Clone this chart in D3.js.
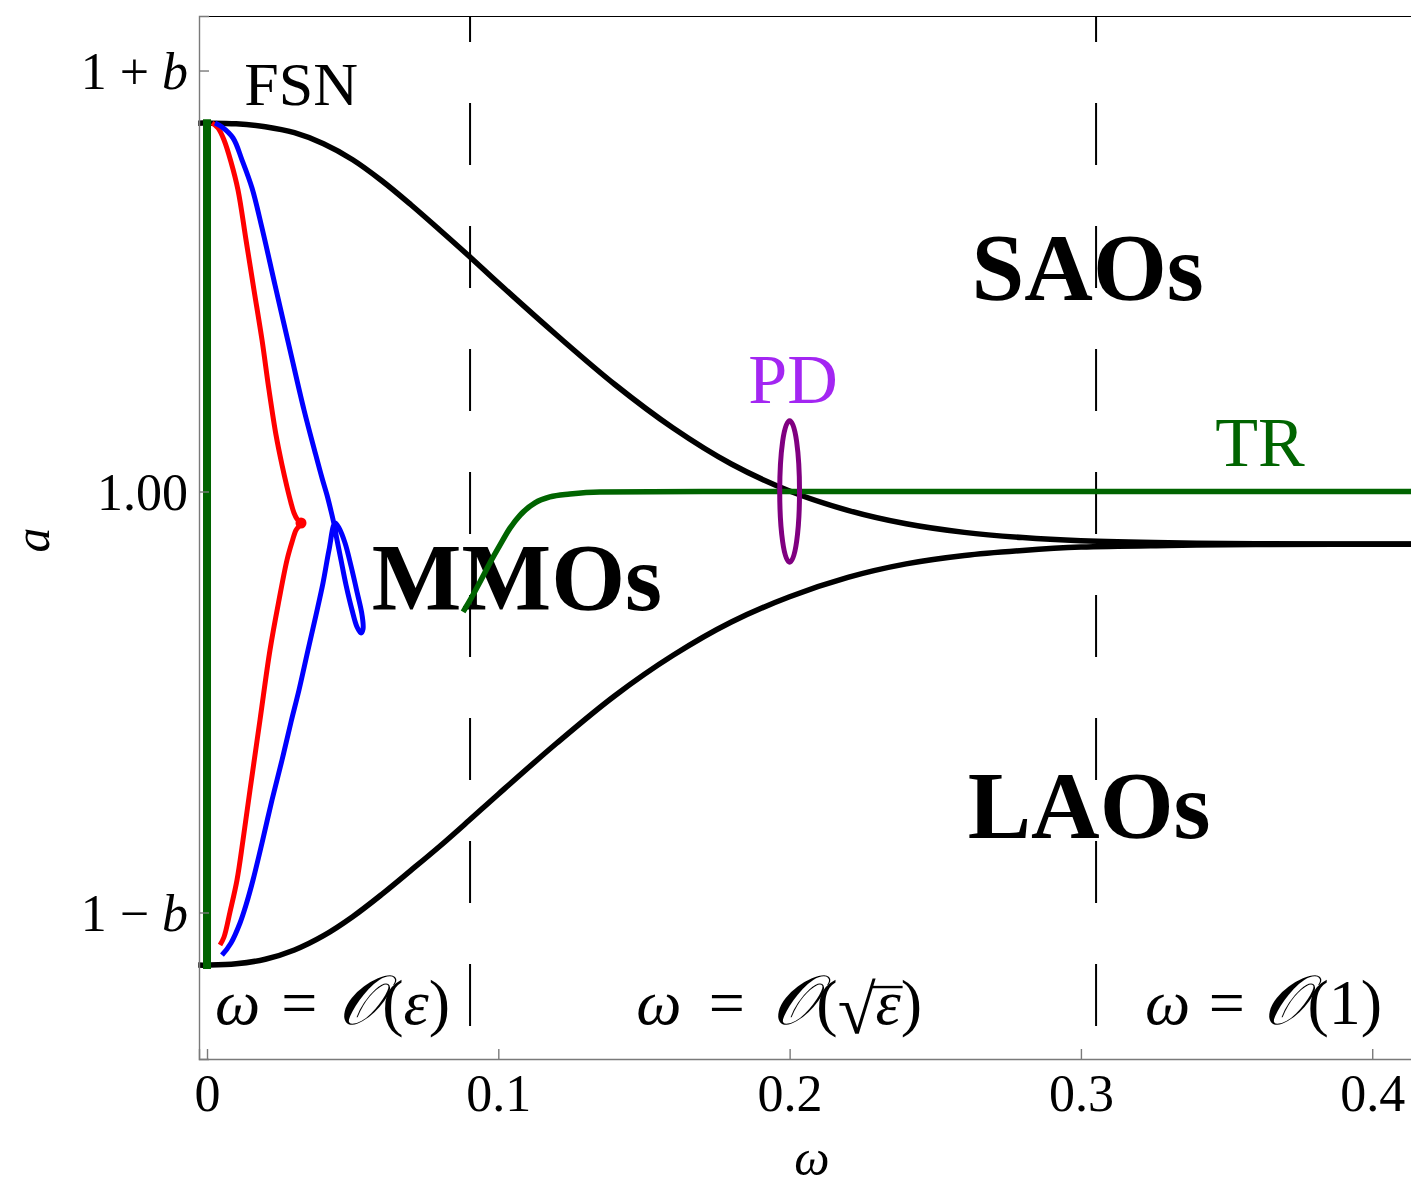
<!DOCTYPE html>
<html>
<head>
<meta charset="utf-8">
<script src="https://cdn.jsdelivr.net/npm/d3@7"></script>
<style>
  body { margin: 0; background: #fff; }
  text { font-family: "Liberation Serif", "Times New Roman", serif; }
</style>
</head>
<body>
<svg id="chart" width="1411" height="1187"></svg>
<script>
// Parameter b sets the spacing of the 1 ± b ticks
const b = 0.1;

const yTickValues = [1 - b, 1, 1 + b];
const yTickLabels = [["1 − ", "b"], ["1.00", ""], ["1 + ", "b"]];
const xTickValues = [0, 0.1, 0.2, 0.3, 0.4];
const xTickLabels = ["0", "0.1", "0.2", "0.3", "0.4"];

// Boundaries between the three forcing-frequency regimes
const regimeBounds = [0.0903, 0.3052];

// Upper and lower black branches [ω, a]
const upperBranch = [[-0.003,1.0875],[0,1.0875],[0.01,1.08734],[0.02,1.08665],[0.03,1.08523],[0.04,1.08261],[0.05,1.07881],[0.06,1.07382],[0.07,1.06812],[0.08,1.06207],[0.09,1.05589],[0.10,1.04952],[0.12,1.03717],[0.14,1.02542],[0.16,1.01508],[0.18,1.00653],[0.20,1.00012],[0.22,0.99553],[0.24,0.99233],[0.26,0.99029],[0.28,0.98905],[0.30,0.98831],[0.33,0.98781],[0.36,0.98762],[0.42,0.9875]];
const lowerBranch = [[-0.003,0.8875],[0,0.8875],[0.01,0.8878],[0.02,0.8889],[0.03,0.8911],[0.04,0.8945],[0.05,0.8990],[0.06,0.9043],[0.07,0.9100],[0.08,0.9158],[0.09,0.9219],[0.10,0.9281],[0.12,0.9402],[0.14,0.9515],[0.16,0.9611],[0.18,0.9690],[0.20,0.9750],[0.22,0.9796],[0.24,0.9828],[0.26,0.9848],[0.28,0.9860],[0.30,0.9868],[0.33,0.9872],[0.36,0.9874],[0.42,0.9875]];

// Folded saddle-node segment at ω = 0
const fsnSegment = [[0,1.0875],[0,0.8875]];

// Torus (TR) branch
const trBranch = [[0.0879,0.9714],[0.0903,0.9742],[0.0937,0.9785],[0.0971,0.9830],[0.1006,0.9873],[0.1040,0.9913],[0.1075,0.9944],[0.1126,0.9973],[0.1177,0.9987],[0.1246,0.9994],[0.1349,0.9999],[0.17,1.0],[0.42,1.0]];

// MMO boundary curves
const redCurve = [[0.00172,1.08753],[0.00378,1.08634],[0.00584,1.08349],[0.00824,1.07827],[0.01064,1.07162],[0.01339,1.05974],[0.01613,1.04786],[0.01888,1.03599],[0.02128,1.02411],[0.02369,1.01342],[0.02575,1.00629],[0.02746,1.00107],[0.02884,0.99727],[0.02987,0.99489],[0.03090,0.99347],[0.03227,0.99252],
  [0.03055,0.99085],[0.02918,0.98800],[0.02746,0.98373],[0.02472,0.97423],[0.02162,0.96235],[0.01819,0.94572],[0.01476,0.92910],[0.01236,0.91722],[0.01030,0.90772],[0.00789,0.90012],[0.00584,0.89418],[0.00446,0.89228]];
const redCusp = [0.03227, 0.99252];
const blueUpper = [[0.00275,1.08753],[0.00515,1.08658],[0.00893,1.08397],[0.01202,1.07874],[0.01545,1.07209],[0.01888,1.06259],[0.02334,1.04905],[0.02849,1.03361],[0.03330,1.01936],[0.03707,1.00938],[0.03948,1.00321],[0.04119,0.99917],[0.04257,0.99537],[0.04360,0.99228]];
const blueLoop = [[0.04463,0.98848],[0.04600,0.98373],[0.04772,0.97779],[0.04978,0.97185],[0.05150,0.96782],[0.05287,0.96639],[0.05356,0.96734],[0.05322,0.97067],[0.05150,0.97613],[0.04944,0.98230],[0.04738,0.98777],[0.04532,0.99133],[0.04394,0.99252]];
const blueLower = [[0.04188,0.98610],[0.03982,0.97827],[0.03742,0.97067],[0.03467,0.96235],[0.03158,0.95285],[0.02884,0.94525],[0.02575,0.93622],[0.02231,0.92672],[0.01888,0.91651],[0.01579,0.90772],[0.01339,0.90178],[0.01133,0.89751],[0.00824,0.89276],[0.00515,0.88990]];

// Period-doubling point and its marker extent
const pdPoint = [0.2, 1.0];
const pdExtent = [0.0034, 0.0168];

// Annotation anchors [ω, a]
const regionNames = ["SAOs", "MMOs", "LAOs"];
const regionAnchors = [[0.3023,1.0454],[0.1064,0.9718],[0.3028,0.9177]];
const curveNames = ["FSN", "PD", "TR"];
const curveAnchors = [[0.0323,1.0918],[0.2012,1.0211],[0.3615,1.0061]];
const regimeAnchors = [[0.0431,0.8735],[0.1964,0.8735],[0.3627,0.8735]];
const regimeWidths = [235, 286, 237];

const svg = d3.select("#chart");
svg.append("rect").attr("width", 1411).attr("height", 1187).attr("fill", "#fff");

const x = d3.scaleLinear().domain([-0.00275, 0.4164]).range([199, 1420]);
const y = d3.scaleLinear().domain([0.86520, 1.11295]).range([1059, 16]);
const [yBottom, yTop] = y.domain();

const line = d3.line().x(d => x(d[0])).y(d => y(d[1]));

// Regime separators
svg.append("g").selectAll("line").data(regimeBounds).join("line")
  .attr("x1", d => x(d)).attr("x2", d => x(d))
  .attr("y1", y(yTop)).attr("y2", y(yBottom))
  .attr("stroke", "#000").attr("stroke-width", 2)
  .attr("stroke-dasharray", "62 61").attr("stroke-dashoffset", 36);

// Region names
svg.append("g").selectAll("text").data(regionNames).join("text")
  .attr("x", (d, i) => x(regionAnchors[i][0]))
  .attr("y", (d, i) => y(regionAnchors[i][1]))
  .attr("text-anchor", "middle").attr("font-weight", "bold")
  .attr("font-size", 95).attr("fill", "#000").text(d => d);

// Curve names
const curveColors = ["#000", "#a326f2", "#006400"];
const curveSizes = [62, 70, 70];
svg.append("g").selectAll("text").data(curveNames).join("text")
  .attr("x", (d, i) => x(curveAnchors[i][0]))
  .attr("y", (d, i) => y(curveAnchors[i][1]))
  .attr("text-anchor", "middle")
  .attr("font-size", (d, i) => curveSizes[i])
  .attr("fill", (d, i) => curveColors[i]).text(d => d);

// Regime labels ω = O(ε), O(√ε), O(1); extra room goes around the "=" sign
const regimeFont = 64;
const regimeG = svg.append("g").attr("font-size", regimeFont).attr("fill", "#000");
function regimeLabel(i, build) {
  const t = regimeG.append("text")
    .attr("x", x(regimeAnchors[i][0])).attr("y", y(regimeAnchors[i][1]))
    .attr("text-anchor", "middle");
  t.append("tspan").attr("font-style", "italic").text("ω");
  const eq = t.append("tspan").text("=");
  const big = t.append("tspan").attr("font-style", "italic").attr("font-size", regimeFont * 1.08).text("𝒪");
  t.append("tspan").text("(");
  build(t);
  t.append("tspan").text(")");
  const extra = Math.max(0, regimeWidths[i] - t.node().getComputedTextLength());
  eq.attr("dx", extra / 2);
  big.attr("dx", extra / 2);
  return t;
}
regimeLabel(0, t => t.append("tspan").attr("font-style", "italic").text("ε"));
let radical, radicand;
regimeLabel(1, t => {
  radical = t.append("tspan").attr("dy", 9).attr("font-size", regimeFont * 1.08).text("√");
  radicand = t.append("tspan").attr("dy", -9).attr("font-style", "italic").text("ε");
});
regimeLabel(2, t => t.append("tspan").text("1"));

// Vinculum over the radicand
{
  const rb = radical.node().getBBox();
  const eb = radicand.node().getBBox();
  const baseline = y(regimeAnchors[1][1]);
  const barY = baseline - 37;
  regimeG.append("line")
    .attr("x1", rb.x + rb.width - 4).attr("x2", eb.x + eb.width + 1)
    .attr("y1", barY).attr("y2", barY)
    .attr("stroke", "#000").attr("stroke-width", 2.4);
}

// Black branches
svg.append("g").selectAll("path").data([upperBranch, lowerBranch]).join("path")
  .attr("d", line.curve(d3.curveCatmullRom.alpha(0.5)))
  .attr("fill", "none").attr("stroke", "#000").attr("stroke-width", 5.5);

// TR branch
svg.append("path").datum(trBranch)
  .attr("d", line.curve(d3.curveMonotoneX))
  .attr("fill", "none").attr("stroke", "#006400").attr("stroke-width", 5.5);

// MMO curves
const cr = d3.curveCatmullRom.alpha(0.5);
svg.append("path").datum(redCurve)
  .attr("d", line.curve(cr))
  .attr("fill", "none").attr("stroke", "#ff0000").attr("stroke-width", 5)
  .attr("stroke-linejoin", "round");
svg.append("circle").attr("cx", x(redCusp[0])).attr("cy", y(redCusp[1]))
  .attr("r", 5.5).attr("fill", "#ff0000");
svg.append("path").datum(blueUpper.concat(blueLoop, blueLower))
  .attr("d", line.curve(cr))
  .attr("fill", "none").attr("stroke", "#0000ff").attr("stroke-width", 5)
  .attr("stroke-linejoin", "round");

// FSN segment
svg.append("path").datum(fsnSegment)
  .attr("d", line.curve(d3.curveLinear))
  .attr("fill", "none").attr("stroke", "#006400").attr("stroke-width", 8)
  .attr("stroke-linecap", "square");

// PD marker
svg.append("ellipse")
  .attr("cx", x(pdPoint[0])).attr("cy", y(pdPoint[1]))
  .attr("rx", x(pdPoint[0] + pdExtent[0]) - x(pdPoint[0]))
  .attr("ry", y(pdPoint[1]) - y(pdPoint[1] + pdExtent[1]))
  .attr("fill", "none").attr("stroke", "#800080").attr("stroke-width", 5);

// Frame: top edge
svg.append("line").attr("x1", 199).attr("x2", 1420)
  .attr("y1", y(yTop) + 0.5).attr("y2", y(yTop) + 0.5)
  .attr("stroke", "#000").attr("stroke-width", 1);

// Axes
const axisColor = "#7a7a7a";
const yAxis = svg.append("g").attr("transform", `translate(${x(x.domain()[0])},0)`)
  .call(d3.axisLeft(y).tickValues(yTickValues).tickSize(-10).tickPadding(11));
yAxis.selectAll("text").each(function(d, i) {
  const t = d3.select(this).text("").attr("font-size", 52).attr("fill", "#000")
    .attr("font-family", "Liberation Serif").attr("dy", "0.34em");
  t.append("tspan").text(yTickLabels[i][0]);
  if (yTickLabels[i][1]) t.append("tspan").attr("font-style", "italic").text(yTickLabels[i][1]);
});

const xAxis = svg.append("g").attr("transform", `translate(0,${y(yBottom)})`)
  .call(d3.axisBottom(x).tickValues(xTickValues).tickSize(-10)
    .tickFormat((d, i) => xTickLabels[i]));
xAxis.selectAll("text").attr("font-size", 52).attr("fill", "#000")
  .attr("font-family", "Liberation Serif").attr("y", 52).attr("dy", 0);

[yAxis, xAxis].forEach(g => {
  g.selectAll(".domain").attr("stroke", axisColor).attr("stroke-width", 1.4);
  g.selectAll(".tick line").attr("stroke", axisColor).attr("stroke-width", 1.4);
});

// Axis titles
svg.append("text").attr("x", 812).attr("y", 1175).attr("text-anchor", "middle")
  .attr("font-size", 50).attr("font-style", "italic").text("ω");
svg.append("text").attr("transform", "translate(49,540) rotate(-90)")
  .attr("text-anchor", "middle").attr("font-size", 50).attr("font-style", "italic").text("a");
</script>
</body>
</html>
